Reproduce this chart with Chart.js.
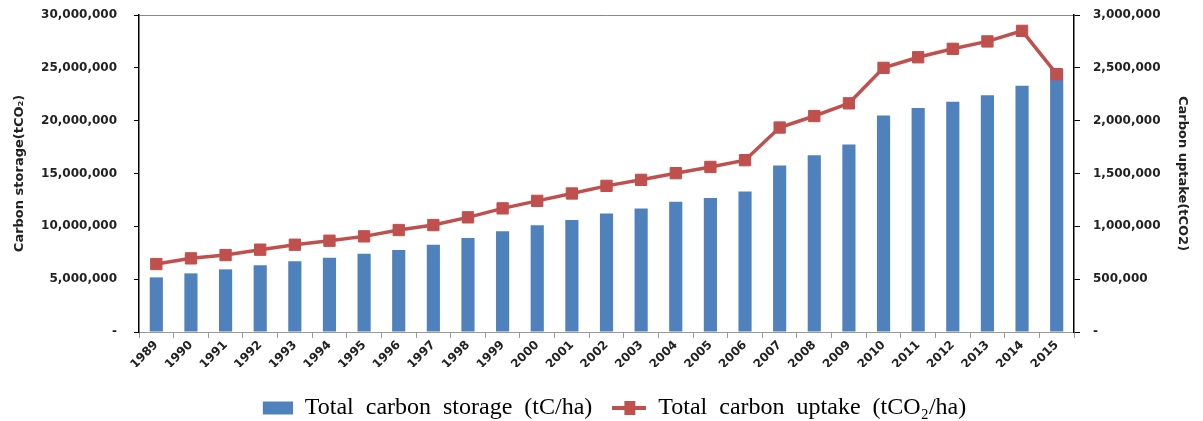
<!DOCTYPE html>
<html>
<head>
<meta charset="utf-8">
<script src="https://cdn.jsdelivr.net/npm/chart.js@4/dist/chart.umd.min.js"></script>
<style>
    html, body { margin: 0; padding: 0; background: #fff; }
    #wrap { width: 1203px; height: 421px; }
</style>
</head>
<body>
<div id="wrap"><canvas id="carbonChart"></canvas></div>
<script>
const years = ['1989', '1990', '1991', '1992', '1993', '1994', '1995', '1996', '1997', '1998',
    '1999', '2000', '2001', '2002', '2003', '2004', '2005', '2006', '2007', '2008',
    '2009', '2010', '2011', '2012', '2013', '2014', '2015'];

// Total carbon storage (left axis)
const storage = [5170000, 5550000, 5930000, 6310000, 6690000, 7030000, 7410000, 7760000, 8260000, 8890000,
    9530000, 10110000, 10590000, 11220000, 11690000, 12320000, 12690000, 13300000, 15760000, 16730000,
    17740000, 20500000, 21200000, 21800000, 22400000, 23300000, 24900000];

// Total carbon uptake (right axis)
const uptake = [643000, 697000, 728000, 779000, 826000, 864000, 905000, 965000, 1012000, 1085000,
    1170000, 1241000, 1311000, 1383000, 1440000, 1503000, 1562000, 1626000, 1935000, 2044000,
    2164000, 2500000, 2600000, 2680000, 2750000, 2850000, 2440000];

const storageTicks = [0, 5000000, 10000000, 15000000, 20000000, 25000000, 30000000];
const uptakeTicks = [0, 500000, 1000000, 1500000, 2000000, 2500000, 3000000];

const BLUE = '#4F81BD';
const RED = '#C0504D';
const tickFont = { family: 'DejaVu Sans', weight: 'bold', size: 12 };
const fmt = v => v === 0 ? '-' : v.toLocaleString('en-US');

// petites icônes de légende
function legendIcon(draw) {
    const c = document.createElement('canvas');
    c.width = 34;
    c.height = 16;
    draw(c.getContext('2d'));
    return c;
}
const storageIcon = legendIcon(ctx => {
    ctx.fillStyle = BLUE;
    ctx.fillRect(4, 1.5, 30, 13);
});
const uptakeIcon = legendIcon(ctx => {
    ctx.fillStyle = RED;
    ctx.fillRect(0, 6, 34, 4);
    ctx.fillRect(12, 1, 11, 14);
});

// décale la légende comme sur l'original
const legendShift = {
    id: 'legendShift',
    afterLayout(chart) {
        chart.legend.left += 11;
        chart.legend.right += 11;
        chart.legend.top += 9;
        chart.legend.bottom += 9;
    }
};

// largeur fixe des axes verticaux, sans marge haute/basse
const fixWidth = w => s => {
    s.width = w;
    s.paddingTop = 0;
    s.paddingBottom = 0;
};

const ctx = document.getElementById('carbonChart');
new Chart(ctx, {
    type: 'bar',
    data: {
        labels: years,
        datasets: [
            {
                label: 'Total  carbon  storage  (tC/ha)',
                data: storage,
                backgroundColor: BLUE,
                barPercentage: 0.38,
                categoryPercentage: 1,
                yAxisID: 'y',
                order: 2
            },
            {
                type: 'line',
                label: 'Total  carbon  uptake  (tCO₂/ha)',
                data: uptake,
                borderColor: RED,
                borderWidth: 3.5,
                pointStyle: 'rect',
                pointRadius: 8,
                pointBackgroundColor: RED,
                pointBorderColor: RED,
                pointBorderWidth: 1,
                tension: 0,
                yAxisID: 'y1',
                order: 1
            }
        ]
    },
    options: {
        responsive: true,
        maintainAspectRatio: false,
        animation: false,
        devicePixelRatio: 1,
        layout: { autoPadding: false, padding: { top: 15, right: 0, left: 0, bottom: 0 } },
        plugins: {
            tooltip: { enabled: false },
            legend: {
                position: 'bottom',
                labels: {
                    usePointStyle: true,
                    pointStyleWidth: 34,
                    padding: 20,
                    color: '#000',
                    font: { family: 'Liberation Serif', size: 24 },
                    generateLabels: () => [
                        { text: 'Total  carbon  storage  (tC/ha)', pointStyle: storageIcon, fillStyle: BLUE, strokeStyle: BLUE, lineWidth: 0, datasetIndex: 0, hidden: false },
                        { text: 'Total  carbon  uptake  (tCO₂/ha)', pointStyle: uptakeIcon, fillStyle: RED, strokeStyle: RED, lineWidth: 0, datasetIndex: 1, hidden: false }
                    ]
                }
            }
        },
        scales: {
            x: {
                grid: { offset: true, drawOnChartArea: false, color: '#999', tickLength: 6 },
                border: { color: '#999' },
                ticks: {
                    autoSkip: false,
                    maxRotation: 45,
                    minRotation: 45,
                    padding: 0,
                    color: '#222',
                    font: tickFont
                },
                afterFit: s => { s.height = 35; }
            },
            y: {
                position: 'left',
                min: 0,
                max: 30000000,
                afterBuildTicks: s => { s.ticks = storageTicks.map(v => ({ value: v })); },
                grid: {
                    color: c => (c.tick && c.tick.value === 30000000) ? '#888' : 'rgba(0,0,0,0)',
                    tickColor: '#000',
                    tickLength: 5
                },
                border: { color: '#000', width: 1.5 },
                ticks: { padding: 17, color: '#222', font: tickFont, callback: fmt },
                title: {
                    display: true,
                    text: 'Carbon storage(tCO₂)',
                    color: '#222',
                    font: { family: 'DejaVu Sans', weight: 'bold', size: 13 },
                    padding: { top: 12, bottom: 0 }
                },
                afterFit: fixWidth(139)
            },
            y1: {
                position: 'right',
                min: 0,
                max: 3000000,
                afterBuildTicks: s => { s.ticks = uptakeTicks.map(v => ({ value: v })); },
                grid: { drawOnChartArea: false, tickColor: '#000', tickLength: 6 },
                border: { color: '#000', width: 1.5 },
                ticks: { padding: 13, color: '#222', font: tickFont, callback: fmt },
                title: {
                    display: true,
                    text: 'Carbon uptake(tCO2)',
                    color: '#222',
                    font: { family: 'DejaVu Sans', weight: 'bold', size: 13 },
                    padding: { top: 13, bottom: 0 }
                },
                afterFit: fixWidth(129)
            }
        }
    },
    plugins: [legendShift]
});
</script>
</body>
</html>
